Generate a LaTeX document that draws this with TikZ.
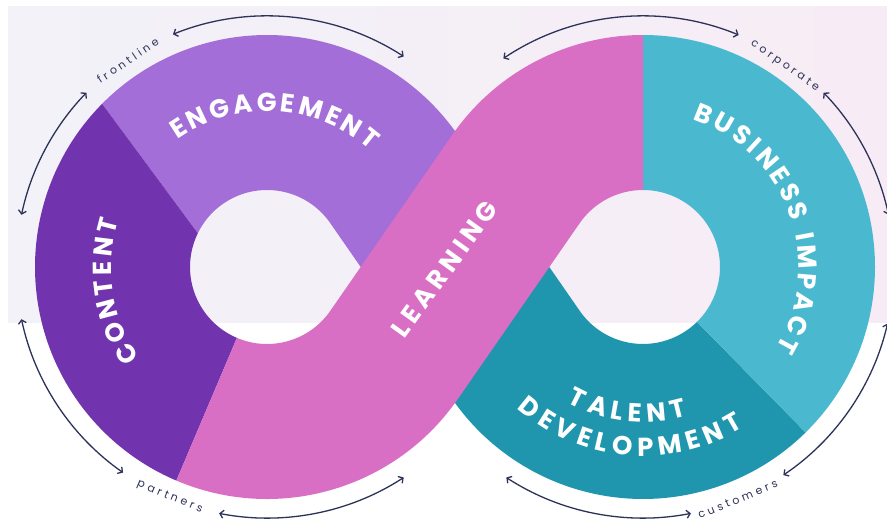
\documentclass[tikz,border=0pt]{standalone}
\usepackage{fontspec}
\usepackage{xcolor}
\usepackage{tikz}
\usetikzlibrary{calc, arrows.meta}

\newfontfamily\ringfont{Poppins}
\newfontfamily\tagfont{Poppins}[LetterSpace=30]
\newcommand{\ringfontset}{\ringfont\bfseries\fontsize{26}{26}\selectfont}

\definecolor{bgleft}{HTML}{F2F2F8}
\definecolor{bgright}{HTML}{F7ECF5}
\definecolor{contentviolet}{HTML}{7133AE}
\definecolor{engagelilac}{HTML}{A46ED8}
\definecolor{learnpink}{HTML}{D96FC4}
\definecolor{impactcyan}{HTML}{4AB9D0}
\definecolor{talentteal}{HTML}{1F96AE}
\definecolor{navy}{HTML}{2D3259}

\tikzset{
	ringtxt/.style={text=white, inner sep=0pt, font=\ringfontset},
	tagtxt/.style={text=navy, inner sep=0pt, font=\tagfont\fontsize{11}{11}\selectfont},
	arrowline/.style={navy, line width=1.3pt, {Straight Barb[length=3.5pt,width=8pt]}-{Straight Barb[length=3.5pt,width=8pt]}},
}

\newsavebox{\lettbox}
\newdimen\lettw
% widths of the capitals, taken outside the picture (fonts are off inside it)
\newcommand{\storewidths}{%
	\foreach \ch in {A,B,C,D,E,G,I,L,M,N,O,P,R,S,T,U,V} {%
		\sbox{\lettbox}{\ringfontset\ch}%
		\expandafter\xdef\csname lw@\ch\endcsname{\the\wd\lettbox}%
	}%
	\sbox{\lettbox}{\ringfontset\ }%
	\expandafter\xdef\csname lw@\endcsname{\the\wd\lettbox}%
}
\newcommand{\letterwidth}[1]{\global\lettw=\csname lw@#1\endcsname\relax}
% sum of the letter widths (with tracking #1) of list #2, into \wordw
\newcommand{\measureword}[2]{%
	\gdef\wordw{0}%
	\foreach \ch in {#2} {%
		\letterwidth{\ch}%
		\pgfmathsetmacro{\tmp}{\wordw+\lettw+#1}%
		\global\let\wordw\tmp
	}%
	\pgfmathsetmacro{\tmp}{\wordw-#1}%
	\global\let\wordw\tmp
	\gdef\runw{0}%
}
% letters set one by one round a ring: name, centre, radius, middle angle, sense, turn, letters
\newcommand{\ringword}[7]{%
	\measureword{4.5}{#7}%
	\foreach \ch [count=\k from 0] in {#7} {%
		\letterwidth{\ch}%
		\pgfmathsetmacro{\ang}{#4+(#5)*deg((\runw+\lettw/2-\wordw/2)/#3)}%
		\node[ringtxt, rotate={\ang+(#6)}] (#1-\k) at ($(#2)+(\ang:#3)$) {\ch};
		\letterwidth{\ch}%
		\pgfmathsetmacro{\tmp}{\runw+\lettw+4.5}%
		\global\let\runw\tmp
	}%
}
% letters set one by one along a line: name, middle point, angle, letters
\newcommand{\lineword}[4]{%
	\measureword{4.5}{#4}%
	\foreach \ch [count=\k from 0] in {#4} {%
		\letterwidth{\ch}%
		\pgfmathsetmacro{\pos}{\runw+\lettw/2-\wordw/2}%
		\node[ringtxt, rotate=#3] (#1-\k) at ($(#2)+(#3:\pos)$) {\ch};
		\letterwidth{\ch}%
		\pgfmathsetmacro{\tmp}{\runw+\lettw+4.5}%
		\global\let\runw\tmp
	}%
}

\begin{document}
\storewidths
\begin{tikzpicture}[x=1pt, y=1pt]
	\def\ro{232};
	\def\ri{77};
	\def\ra{251};
	
	\useasboundingbox (0,0) rectangle (887,523);
	\fill[white] (0,0) rectangle (887,523);
	\shade[left color=bgleft, right color=bgright] (8,200) rectangle (887,516);
	
	\coordinate (L) at (267,256);
	\coordinate (R) at (643,256);
	
	% tangent points of the two crossing bands
	\coordinate (LoT) at ($(L)+(34.73:\ro)$);
	\coordinate (LiT) at ($(L)+(34.73:\ri)$);
	\coordinate (LiB) at ($(L)+(325.27:\ri)$);
	\coordinate (RiT) at ($(R)+(145.27:\ri)$);
	\coordinate (RoB) at ($(R)+(214.73:\ro)$);
	\coordinate (RiB) at ($(R)+(214.73:\ri)$);
	\coordinate (MA) at ($(LiT)!.5!(RoB)$);
	\coordinate (MB) at ($(LoT)!.5!(RiB)$);
	\coordinate (X) at (444.5,254);
	
	\begin{scope}
		\fill[engagelilac] ($(L)+(135.3:\ro)$) arc[start angle=135.3, end angle=34.73, radius=\ro] -- (MB) -- (MA) -- (LiT) arc[start angle=34.73, end angle=154, radius=\ri] -- cycle;
		\fill[talentteal] (MA) -- (RoB) arc[start angle=214.73, end angle=314.5, radius=\ro] -- ($(R)+(314.5:\ri)$) arc[start angle=314.5, end angle=214.73, radius=\ri] -- (MB) -- cycle;
		\fill[contentviolet] ($(L)+(154:\ri)$) -- ($(L)+(135.3:\ro)$) arc[start angle=135.3, end angle=247, radius=\ro] -- ($(L)+(247:\ri)$) arc[start angle=247, end angle=154, radius=\ri] -- cycle;
		\fill[impactcyan] ($(R)+(90:\ri)$) -- ($(R)+(90:\ro)$) arc[start angle=90, end angle=-45.5, radius=\ro] -- ($(R)+(-45.5:\ri)$) arc[start angle=-45.5, end angle=90, radius=\ri] -- cycle;
		\fill[learnpink] ($(L)+(247:\ro)$) arc[start angle=247, end angle=325.27, radius=\ro] -- (RiT) arc[start angle=145.27, end angle=90, radius=\ri] -- ($(R)+(90:\ro)$) arc[start angle=90, end angle=145.27, radius=\ro] -- (LiB) arc[start angle=325.27, end angle=247, radius=\ri] -- cycle;
	\end{scope}
	
	% band titles
	\ringword{eng}{L}{165}{86.85}{-1}{-90}{E,N,G,A,G,E,M,E,N,T}
	\ringword{con}{L}{165}{189.05}{-1}{-90}{C,O,N,T,E,N,T}
	\ringword{biz}{R}{165}{20}{-1}{-90}{B,U,S,I,N,E,S,S,{},I,M,P,A,C,T}
	\ringword{tal}{R}{146}{263.7}{1}{90}{T,A,L,E,N,T}
	\ringword{dev}{R}{180}{265.15}{1}{90}{D,E,V,E,L,O,P,M,E,N,T}
	\lineword{lrn}{X}{54.2}{L,E,A,R,N,I,N,G}
	
	% audiences round the loops
	\begin{scope}[arrowline]
		\draw ($(L)+(57:\ra)$) arc[start angle=57, end angle=112, radius=\ra];
		\draw ($(L)+(136:\ra)$) arc[start angle=136, end angle=168, radius=\ra];
		\draw ($(L)+(192:\ra)$) arc[start angle=192, end angle=235, radius=\ra];
		\draw ($(L)+(259:\ra)$) arc[start angle=259, end angle=303, radius=\ra];
		\draw ($(R)+(67.6:\ra)$) arc[start angle=67.6, end angle=123.8, radius=\ra];
		\draw ($(R)+(12:\ra)$) arc[start angle=12, end angle=44, radius=\ra];
		\draw ($(R)+(-56:\ra)$) arc[start angle=-56, end angle=-13, radius=\ra];
		\draw ($(R)+(237:\ra)$) arc[start angle=237, end angle=281, radius=\ra];
	\end{scope}
	
	\node[tagtxt, rotate=34] (frontline) at ($(L)+(124:249)$) {frontline};
	\node[tagtxt, rotate=-22.9] (partners) at ($(L)+(247.1:250)$) {partners};
	\node[tagtxt, rotate=-35.2] (corporate) at ($(R)+(54.8:246)$) {corporate};
	\node[tagtxt, rotate=22.2] (customers) at ($(R)+(292.2:251)$) {customers};
\end{tikzpicture}
\end{document}
